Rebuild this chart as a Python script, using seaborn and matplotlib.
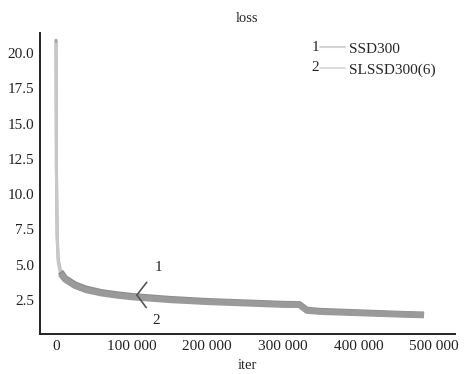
import matplotlib
matplotlib.use("Agg")
import matplotlib.pyplot as plt
import numpy as np
import pandas as pd
import seaborn as sns
from matplotlib.ticker import FuncFormatter

# values
# first iterations: the thin spike
spike_iters = [0, 500, 1500, 3000, 6000, 10000]
spike_ssd300 = [20.9, 12.0, 7.0, 5.3, 4.5, 4.15]
spike_slssd300 = [20.6, 11.5, 6.8, 5.1, 4.35, 4.05]
# rest of training: the thick noisy band
iters = [6000, 12000, 25000, 40000, 60000, 80000, 100000,
         150000, 200000, 250000, 300000, 322000, 332000, 350000, 400000, 450000, 487000]
ssd300 = [4.5, 4.05, 3.6, 3.3, 3.05, 2.9, 2.78,
          2.57, 2.42, 2.32, 2.22, 2.2, 1.8, 1.72, 1.62, 1.52, 1.46]
slssd300 = [4.35, 3.95, 3.5, 3.2, 2.97, 2.82, 2.7,
            2.5, 2.36, 2.26, 2.16, 2.15, 1.74, 1.66, 1.57, 1.48, 1.42]
models = ["SSD300", "SLSSD300(6)"]

df = pd.concat([
    pd.DataFrame({"iter": iters, "loss": ssd300, "model": models[0]}),
    pd.DataFrame({"iter": iters, "loss": slssd300, "model": models[1]}),
])
df_spike = pd.concat([
    pd.DataFrame({"iter": spike_iters, "loss": spike_ssd300, "model": models[0]}),
    pd.DataFrame({"iter": spike_iters, "loss": spike_slssd300, "model": models[1]}),
])

sns.set_style("white")
plt.rcParams["font.family"] = ["Liberation Serif", "DejaVu Serif"]

fig = plt.figure(figsize=(4.68, 3.74), dpi=100)
ax = fig.add_axes([0.0855, 0.107, 0.8865, 0.805])
sns.lineplot(data=df_spike, x="iter", y="loss", hue="model",
             palette=["#a4a4a4", "#c8c8c8"], linewidth=2.2, ax=ax, legend=False)
sns.lineplot(data=df, x="iter", y="loss", hue="model",
             palette=["#8e8e8e", "#9a9a9a"], linewidth=4.5, ax=ax, legend=False,
             solid_capstyle="butt")

ax.set_xlim(-21200, 527800)
ax.set_ylim(0.09, 21.42)
ax.set_xticks([0, 100000, 200000, 300000, 400000, 500000])
ax.set_yticks([2.5, 5.0, 7.5, 10.0, 12.5, 15.0, 17.5, 20.0])
ax.xaxis.set_major_formatter(FuncFormatter(lambda v, p: f"{int(v):,}".replace(",", " ")))
ax.yaxis.set_major_formatter(FuncFormatter(lambda v, p: f"{v:.1f}"))
ax.tick_params(direction="in", length=7, width=1.2, labelsize=11, colors="#222222", pad=4)
for s in ["top", "right"]:
    ax.spines[s].set_visible(False)
for s in ["left", "bottom"]:
    ax.spines[s].set_color("#222222")
    ax.spines[s].set_linewidth(1.4)

ax.set_title("loss", fontsize=10.5, pad=8)
ax.set_xlabel("iter", fontsize=10.5, labelpad=5)
ax.set_ylabel("")

# legend with numbered entries
h1, = ax.plot([], [], color="#d4d4d4", lw=1.5)
h2, = ax.plot([], [], color="#dcdcdc", lw=1.5)
ax.legend([h1, h2], models, loc="upper right", bbox_to_anchor=(0.98, 1.005),
          frameon=False, fontsize=11, handlelength=1.6, handletextpad=0.3,
          labelspacing=0.45, borderpad=0.2)
ax.text(0.664, 0.953, "1", transform=ax.transAxes, fontsize=11, ha="center", va="center")
ax.text(0.664, 0.884, "2", transform=ax.transAxes, fontsize=11, ha="center", va="center")

# curve annotations
ax.annotate("1", xy=(107000, 2.85), xytext=(135000, 4.8), fontsize=11, ha="center", va="center",
            arrowprops=dict(arrowstyle="-", color="#555555", lw=1.2, shrinkA=5, shrinkB=0))
ax.annotate("2", xy=(107000, 2.85), xytext=(132000, 1.05), fontsize=11, ha="center", va="center",
            arrowprops=dict(arrowstyle="-", color="#555555", lw=1.2, shrinkA=3, shrinkB=0))

fig.savefig("out.png", dpi=100)
